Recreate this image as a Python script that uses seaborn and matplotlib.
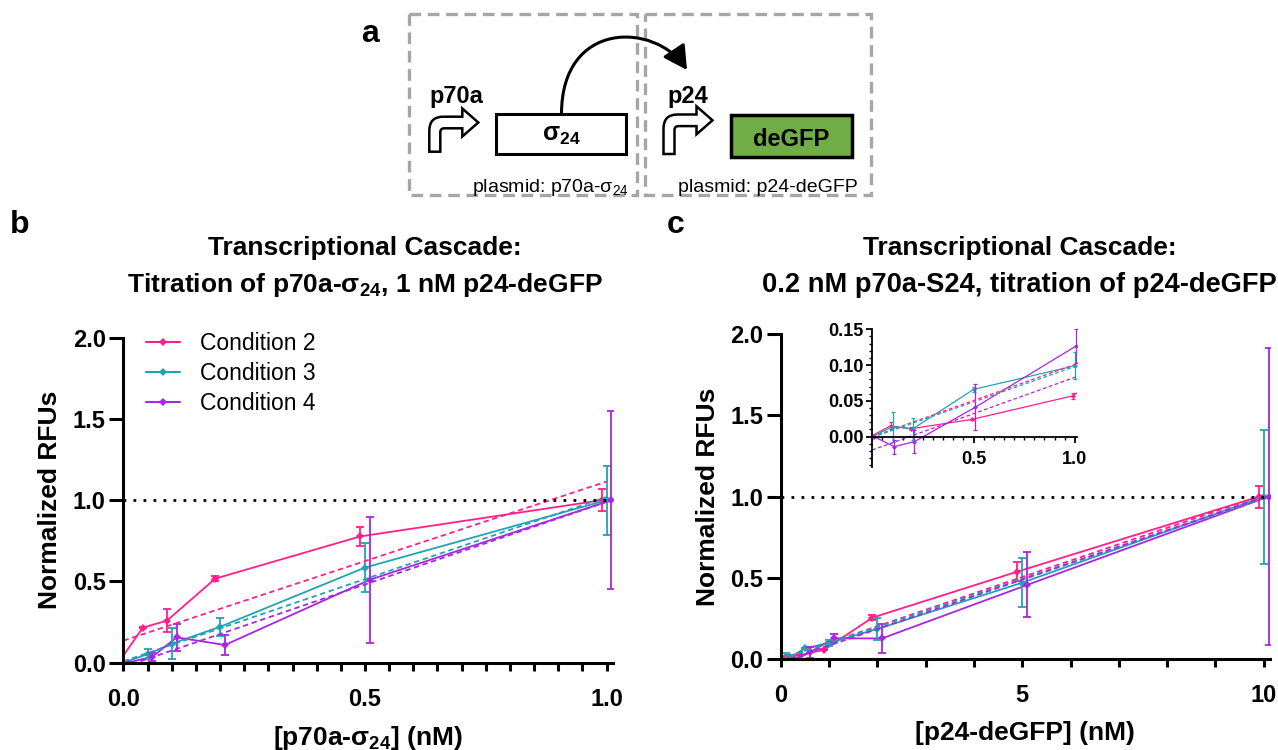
import numpy as np
import pandas as pd
import seaborn as sns
import matplotlib.pyplot as plt
from matplotlib.patches import Rectangle, PathPatch, FancyArrowPatch
from matplotlib.path import Path
from matplotlib.lines import Line2D
from matplotlib.ticker import MultipleLocator

sns.set_theme(style="ticks")
plt.rcParams["font.family"] = ["Liberation Sans", "DejaVu Sans"]
plt.rcParams["mathtext.default"] = "regular"
for key in ["text.color", "axes.labelcolor", "xtick.color", "ytick.color"]:
    plt.rcParams[key] = "black"

# -------------------------------
# data
# -------------------------------
conditions = ["Condition 2", "Condition 3", "Condition 4"]
colors = ["#FF1F8A", "#22A3B5", "#A725E3"]

# panel b: titration of p70a-sigma24
conc_b = [0, 0.05, 0.1, 0.2, 0.5, 1.0]
b_mean_c2 = [0.0, 0.215, 0.258, 0.517, 0.777, 1.0]
b_sd_c2 = [0.0, 0.005, 0.07, 0.015, 0.058, 0.068]
b_mean_c3 = [0.0, 0.051, 0.116, 0.22, 0.585, 1.0]
b_sd_c3 = [0.0, 0.03, 0.095, 0.057, 0.15, 0.213]
b_mean_c4 = [0.0, 0.036, 0.155, 0.108, 0.51, 1.0]
b_sd_c4 = [0.0, 0.025, 0.082, 0.063, 0.387, 0.55]
# linear fits, y at x = 0 and x = 1
fit_x_b = [0, 1.0]
fit_b_c2 = [0.135, 1.115]
fit_b_c3 = [0.008, 1.02]
fit_b_c4 = [-0.028, 0.99]

# panel c: titration of p24-deGFP
conc_c = [0, 0.1, 0.2, 0.5, 1, 2, 5, 10]
c_mean_c2 = [0.0, 0.015, 0.011, 0.024, 0.057, 0.255, 0.538, 1.0]
c_sd_c2 = [0.001, 0.005, 0.002, 0.001, 0.004, 0.015, 0.06, 0.067]
c_mean_c3 = [0.0, 0.014, 0.011, 0.066, 0.099, 0.185, 0.47, 1.0]
c_sd_c3 = [0.001, 0.021, 0.015, 0.003, 0.019, 0.07, 0.15, 0.413]
c_mean_c4 = [0.0, -0.014, -0.007, 0.041, 0.127, 0.127, 0.456, 1.0]
c_sd_c4 = [0.001, 0.01, 0.016, 0.032, 0.024, 0.09, 0.2, 0.914]
fit_x_c = [0, 10]
fit_c_c2 = [0.0, 1.01]
fit_c_c3 = [-0.001, 0.989]
fit_c_c4 = [-0.0186, 0.996]

palette = dict(zip(conditions, colors))
W, H = 1278, 750


def long_table(conc, means, sds, offsets):
    rows = []
    for cond, m, s, off in zip(conditions, means, sds, offsets):
        for x, y, e in zip(conc, m, s):
            rows.append({"conc": x, "pos": x + off, "condition": cond, "rfu": y, "sd": e})
    return pd.DataFrame(rows)


def px_rect(left, top, right, bottom):
    return [left / W, (H - bottom) / H, (right - left) / W, (bottom - top) / H]


def draw_series(ax, df, lw, ms, cap, ew):
    sns.lineplot(data=df, x="pos", y="rfu", hue="condition", palette=palette,
                 marker="D", markersize=ms, markeredgewidth=0, linewidth=lw,
                 errorbar=None, legend=False, ax=ax)
    for cond, col in palette.items():
        d = df[df["condition"] == cond]
        ax.errorbar(d["pos"], d["rfu"], yerr=d["sd"], fmt="none", ecolor=col,
                    elinewidth=ew, capsize=cap, capthick=ew)


def style_main(ax):
    ax.spines[["top", "right"]].set_visible(False)
    for s in ["left", "bottom"]:
        ax.spines[s].set_linewidth(2.2)
        ax.spines[s].set_color("black")
    ax.tick_params(which="both", direction="out", width=2.2, color="black")
    ax.tick_params(axis="x", which="both", length=6, pad=12)
    ax.tick_params(axis="y", length=10, pad=2.7)
    ax.set_ylim(0, 2.0)
    ax.set_yticks([0, 0.5, 1.0, 1.5, 2.0], ["0.0", "0.5", "1.0", "1.5", "2.0"],
                  fontsize=17, fontweight="bold")
    ax.set_ylabel("Normalized RFUs", fontsize=19, fontweight="bold")
    ax.yaxis.set_label_coords(-0.125, 0.5)


def promoter(ax, x0, yb, yt):
    w, bt, r, ri = 11, 11.6, 14, 4
    hb, tip, hh = x0 + 33, x0 + 49, 14
    yc = yt + bt / 2
    verts = [(x0, yb), (x0, yt + r), (x0, yt), (x0 + r, yt), (hb, yt), (hb, yc - hh),
             (tip, yc), (hb, yc + hh), (hb, yt + bt), (x0 + w + ri, yt + bt),
             (x0 + w, yt + bt), (x0 + w, yt + bt + ri), (x0 + w, yb), (x0, yb)]
    codes = [Path.MOVETO, Path.LINETO, Path.CURVE3, Path.CURVE3, Path.LINETO, Path.LINETO,
             Path.LINETO, Path.LINETO, Path.LINETO, Path.LINETO, Path.CURVE3, Path.CURVE3,
             Path.LINETO, Path.CLOSEPOLY]
    ax.add_patch(PathPatch(Path(verts, codes), facecolor="white", edgecolor="black",
                           lw=1.8, joinstyle="miter"))


fig = plt.figure(figsize=(W / 100, H / 100), dpi=100)

# -------------------------------
# schematic (panel a) and panel letters, pixel coordinates
# -------------------------------
ax_d = fig.add_axes([0, 0, 1, 1])
ax_d.set_xlim(0, W)
ax_d.set_ylim(H, 0)
ax_d.axis("off")

for x0, x1 in [(409, 637), (645, 871)]:
    ax_d.add_patch(Rectangle((x0, 14), x1 - x0, 181, fill=False, edgecolor="#A6A6A6",
                             lw=2.4, ls=(0, (3.5, 2))))
promoter(ax_d, 429.3, 151.7, 116.7)
promoter(ax_d, 663.5, 154, 114.5)
ax_d.add_patch(Rectangle((496.4, 114), 130, 40, facecolor="white", edgecolor="black", lw=2.2))
ax_d.add_patch(Rectangle((731, 115), 121, 42, facecolor="#70AD47", edgecolor="black", lw=2.5))
arc = Path([(561.5, 114), (561.5, 20), (655, 22), (687, 70)],
           [Path.MOVETO, Path.CURVE4, Path.CURVE4, Path.CURVE4])
ax_d.add_patch(FancyArrowPatch(path=arc, arrowstyle="-|>,head_length=0.55,head_width=0.3",
                               mutation_scale=26, lw=2.2, color="black"))
ax_d.text(456, 103, "p70a", ha="center", va="baseline", fontsize=17, fontweight="bold")
ax_d.text(687.7, 103, "p24", ha="center", va="baseline", fontsize=17, fontweight="bold")
ax_d.text(561.5, 135, "σ$_{24}$", ha="center", va="center", fontsize=18, fontweight="bold")
ax_d.text(791.5, 145.5, "deGFP", ha="center", va="baseline", fontsize=17, fontweight="bold")
ax_d.text(629, 192, "plasmid: p70a-σ$_{24}$", ha="right", va="baseline", fontsize=14)
ax_d.text(768, 192, "plasmid: p24-deGFP", ha="center", va="baseline", fontsize=14)

ax_d.text(370, 41.7, "a", ha="center", va="baseline", fontsize=23, fontweight="bold")
ax_d.text(20, 233, "b", ha="center", va="baseline", fontsize=23, fontweight="bold")
ax_d.text(676, 233, "c", ha="center", va="baseline", fontsize=23, fontweight="bold")

ax_d.text(365, 255, "Transcriptional Cascade:", ha="center", va="baseline",
          fontsize=19, fontweight="bold")
ax_d.text(365, 292, "Titration of p70a-σ$_{24}$, 1 nM p24-deGFP", ha="center", va="baseline",
          fontsize=19, fontweight="bold")
ax_d.text(1020, 255, "Transcriptional Cascade:", ha="center", va="baseline",
          fontsize=19, fontweight="bold")
ax_d.text(1019, 292, "0.2 nM p70a-S24, titration of p24-deGFP", ha="center", va="baseline",
          fontsize=19.6, fontweight="bold")

# -------------------------------
# panel b
# -------------------------------
ax_b = fig.add_axes(px_rect(123.5, 338, 612.8, 662.5))
df_b = long_table(conc_b, [b_mean_c2, b_mean_c3, b_mean_c4], [b_sd_c2, b_sd_c3, b_sd_c4],
                  [-0.01, 0, 0.01])
draw_series(ax_b, df_b, lw=1.3, ms=4, cap=3, ew=1.3)
for yfit, col in zip([fit_b_c2, fit_b_c3, fit_b_c4], colors):
    ax_b.plot(fit_x_b, yfit, color=col, lw=1.3, ls=(0, (3, 2)))
ax_b.plot([0, 1.0], [1, 1], color="black", lw=2, ls=(0, (1, 2.6)))
style_main(ax_b)
ax_b.set_xlim(0, 1.013)
ax_b.set_xticks([0, 0.5, 1.0], ["0.0", "0.5", "1.0"], fontsize=17, fontweight="bold")
ax_b.xaxis.set_minor_locator(MultipleLocator(0.05))
ax_b.set_xlabel("[p70a-σ$_{24}$] (nM)", fontsize=19, fontweight="bold")
ax_b.xaxis.set_label_coords(0.5, -0.19)

handles = [Line2D([], [], color=c, lw=1.5, marker="D", markersize=4, markeredgewidth=0)
           for c in colors]
ax_b.legend(handles, conditions, loc="upper left", bbox_to_anchor=(146 / W, (H - 332) / H),
            bbox_transform=fig.transFigure, frameon=False, fontsize=16.5, borderpad=0,
            borderaxespad=0, handlelength=1.5, handletextpad=0.85, labelspacing=0.31)

# -------------------------------
# panel c
# -------------------------------
ax_c = fig.add_axes(px_rect(780.7, 334.3, 1269.5, 659))
df_c = long_table(conc_c, [c_mean_c2, c_mean_c3, c_mean_c4], [c_sd_c2, c_sd_c3, c_sd_c4],
                  [-0.1, 0, 0.1])
draw_series(ax_c, df_c, lw=1.3, ms=4, cap=3, ew=1.3)
for yfit, col in zip([fit_c_c2, fit_c_c3, fit_c_c4], colors):
    ax_c.plot(fit_x_c, yfit, color=col, lw=1.3, ls=(0, (3, 2)))
ax_c.plot([0, 10], [1, 1], color="black", lw=2, ls=(0, (1, 2.6)))
style_main(ax_c)
ax_c.set_xlim(0, 10.12)
ax_c.set_xticks([0, 5, 10], ["0", "5", "10"], fontsize=17, fontweight="bold")
ax_c.xaxis.set_minor_locator(MultipleLocator(1))
ax_c.set_xlabel("[p24-deGFP] (nM)", fontsize=19, fontweight="bold")
ax_c.xaxis.set_label_coords(0.5, -0.19)

# inset: low concentrations
ins = fig.add_axes(px_rect(872.3, 329.3, 1077.3, 466.7))
df_i = long_table(conc_c, [c_mean_c2, c_mean_c3, c_mean_c4], [c_sd_c2, c_sd_c3, c_sd_c4],
                  [-0.01, 0, 0.008])
draw_series(ins, df_i, lw=0.9, ms=2.5, cap=1.5, ew=0.9)
for yfit, col in zip([fit_c_c2, fit_c_c3, fit_c_c4], colors):
    ins.plot(fit_x_c, yfit, color=col, lw=0.9, ls=(0, (3, 2)))
ins.set_xlim(0, 1.012)
ins.set_ylim(-0.042, 0.15)
ins.patch.set_alpha(0)
ins.spines[["top", "right"]].set_visible(False)
ins.spines["bottom"].set_position(("data", 0))
for s in ["left", "bottom"]:
    ins.spines[s].set_linewidth(1.3)
    ins.spines[s].set_color("black")
ins.set_yticks([0, 0.05, 0.10, 0.15], ["0.00", "0.05", "0.10", "0.15"],
               fontsize=13, fontweight="bold")
ins.set_xticks([0.5, 1.0], ["0.5", "1.0"], fontsize=13, fontweight="bold")
ins.yaxis.set_minor_locator(MultipleLocator(0.01))
ins.xaxis.set_minor_locator(MultipleLocator(0.05))
ins.tick_params(which="major", length=4.5, width=1.3, color="black")
ins.tick_params(which="minor", length=2.5, width=1.0, color="black")
ins.tick_params(axis="y", pad=2)
ins.tick_params(axis="x", pad=6)
ins.set_xlabel("")
ins.set_ylabel("")

fig.savefig("out.png", dpi=100)
